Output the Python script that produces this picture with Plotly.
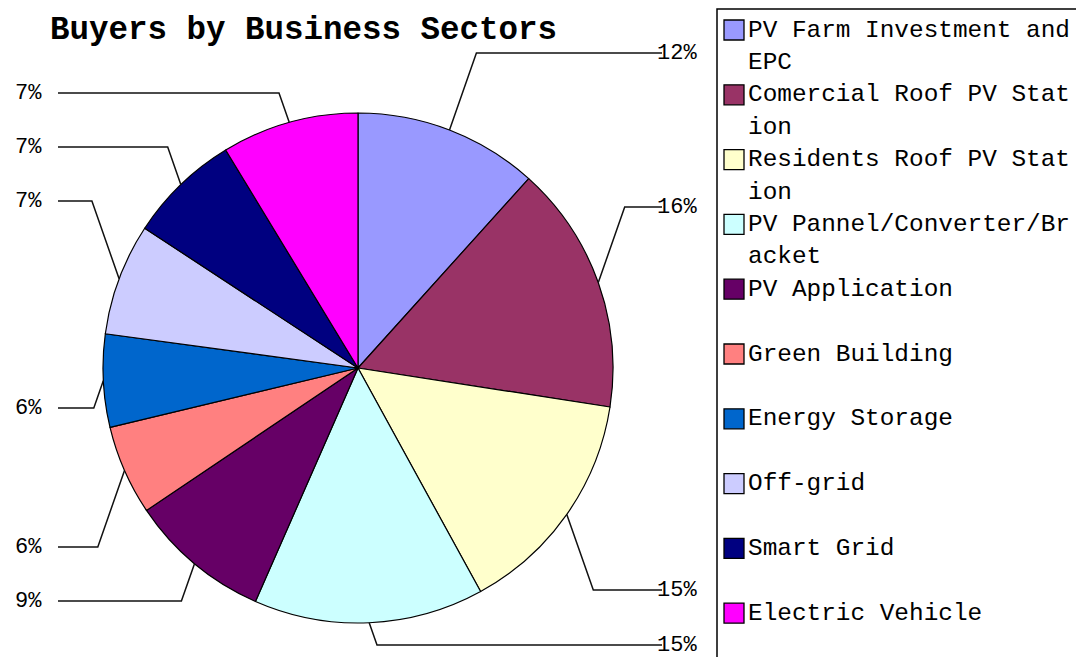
import math
import plotly.graph_objects as go

# ---------------- data ----------------
sectors = [
    "PV Farm Investment and EPC",
    "Comercial Roof PV Station",
    "Residents Roof PV Station",
    "PV Pannel/Converter/Bracket",
    "PV Application",
    "Green Building",
    "Energy Storage",
    "Off-grid",
    "Smart Grid",
    "Electric Vehicle",
]
shares = [11.7, 15.8, 14.6, 14.6, 9.0, 5.7, 5.9, 7.1, 7.1, 8.7]
share_labels = ["12%", "16%", "15%", "15%", "9%", "6%", "6%", "7%", "7%", "7%"]
colors = ["#9999FF", "#993366", "#FFFFCC", "#CCFFFF", "#660066",
          "#FF8080", "#0066CC", "#CCCCFF", "#000080", "#FF00FF"]

# ---------------- layout constants ----------------
W, H = 1076, 657
CX, CY, R = 358, 368, 255          # pie centre / radius in px
label_y_px = [53, 207, 590, 645, 601, 547, 408, 201, 147, 93]   # data-label rows
FONT = "Liberation Mono"

fig = go.Figure()

fig.add_trace(go.Pie(
    labels=sectors, values=shares, sort=False, direction="clockwise", rotation=0,
    marker=dict(colors=colors, line=dict(color="black", width=1.2)),
    textinfo="none", textposition="none", hoverinfo="label+percent",
    showlegend=False,
    domain=dict(x=[(CX - R) / W, (CX + R) / W],
                y=[1 - (CY + R) / H, 1 - (CY - R) / H]),
))

shapes = []
annotations = []

# leader lines + data labels, derived from slice mid-angles
total = sum(shares)
cum = 0.0
for v, lab, ly in zip(shares, share_labels, label_y_px):
    mid = (cum + v / 2) / total * 2 * math.pi
    cum += v
    ex = CX + R * math.sin(mid)
    ey = CY - R * math.cos(mid)
    right = math.sin(mid) > 0
    side = 1 if right else -1
    elx = ex + side * 0.35 * abs(ly - ey)
    endx = 662 if right else 58
    shapes.append(dict(type="path", xref="x", yref="y", layer="above",
                       path=f"M{ex:.1f},{ey:.1f} L{elx:.1f},{ly} L{endx},{ly}",
                       line=dict(color="#111111", width=1.5)))
    annotations.append(dict(xref="x", yref="y", x=655 if right else 13, y=ly,
                            xanchor="left", yanchor="middle", showarrow=False,
                            text=lab, font=dict(family=FONT, size=22, color="black")))

# legend (drawn manually to mimic the boxed legend)
shapes.append(dict(type="rect", xref="x", yref="y", x0=717, y0=9, x1=W + 10, y1=H + 10,
                   line=dict(color="black", width=1.5), fillcolor="rgba(0,0,0,0)"))


def wrap(s, n=22):
    out = []
    while len(s) > n:
        out.append(s[:n])
        s = s[n:].lstrip()
    out.append(s)
    return out


for i, (name, col) in enumerate(zip(sectors, colors)):
    cy = 30 + 64.8 * i
    shapes.append(dict(type="rect", xref="x", yref="y", x0=724, x1=744, y0=cy - 10, y1=cy + 10,
                       fillcolor=col, line=dict(color="black", width=1.3)))
    for j, line in enumerate(wrap(name)):
        annotations.append(dict(xref="x", yref="y", x=746, y=cy + 32.5 * j,
                                xanchor="left", yanchor="middle", showarrow=False,
                                text=line, font=dict(family=FONT, size=24.4, color="black")))

annotations.append(dict(xref="x", yref="y", x=48, y=30, xanchor="left", yanchor="middle",
                        showarrow=False, text="<b>Buyers by Business Sectors</b>",
                        font=dict(family=FONT, size=32.5, color="black")))

fig.update_layout(
    width=W, height=H,
    margin=dict(l=0, r=0, t=0, b=0),
    paper_bgcolor="white", plot_bgcolor="white",
    xaxis=dict(range=[0, W], visible=False, fixedrange=True, domain=[0, 1]),
    yaxis=dict(range=[H, 0], visible=False, fixedrange=True, domain=[0, 1]),
    shapes=shapes, annotations=annotations,
    showlegend=False,
)

fig.write_html("out.html", config={"displayModeBar": False},
               post_script="document.body.style.margin='0';")
